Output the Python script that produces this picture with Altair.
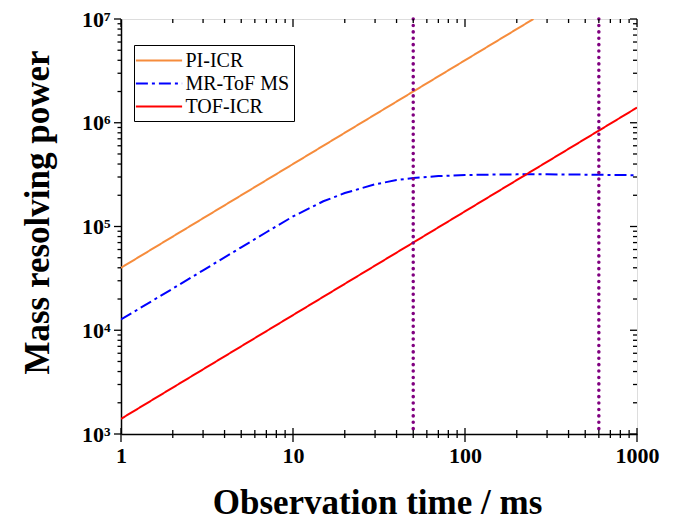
import altair as alt
import pandas as pd

# ---- data ----
series_names = ["PI-ICR", "MR-ToF MS", "TOF-ICR"]
pi_time = [1, 250]
pi_power = [4.0e4, 1.0e7]
mr_time = [1, 2, 3, 5, 7, 10, 15, 20, 30, 40, 50, 70, 100, 150, 200, 300, 500, 700, 1000]
mr_power = [1.27e4, 2.52e4, 3.78e4, 6.3e4, 8.8e4, 1.25e5, 1.75e5, 2.1e5, 2.55e5, 2.8e5,
            2.93e5, 3.06e5, 3.13e5, 3.17e5, 3.18e5, 3.18e5, 3.16e5, 3.14e5, 3.12e5]
tof_time = [1, 1000]
tof_power = [1.4e3, 1.4e6]
marker_times = [50, 600]

x_major = [1, 10, 100, 1000]
x_minor = [2, 3, 4, 5, 6, 7, 8, 9, 20, 30, 40, 50, 60, 70, 80, 90,
           200, 300, 400, 500, 600, 700, 800, 900]
y_major = [1e3, 1e4, 1e5, 1e6, 1e7]
y_minor = [m * 10 ** e for e in range(3, 7) for m in range(2, 10)]

colors = ["#F68C3C", "#0000FF", "#FF0000"]
dashes = [[1, 0], [12, 4, 3, 4], [1, 0]]

W, H = 516, 415

rows = []
for name, ts, rs in [(series_names[0], pi_time, pi_power),
                     (series_names[1], mr_time, mr_power),
                     (series_names[2], tof_time, tof_power)]:
    for t, r in zip(ts, rs):
        rows.append({"series": name, "t": t, "R": r})
df = pd.DataFrame(rows)
vdf = pd.DataFrame({"t": marker_times})

FONT = "Liberation Serif"
xscale = alt.Scale(type="log", domain=[1, 1000], nice=False)
yscale = alt.Scale(type="log", domain=[1e3, 1e7], nice=False)

ylab = ("datum.value == 1000 ? '10³' : datum.value == 10000 ? '10⁴' : "
        "datum.value == 100000 ? '10⁵' : datum.value == 1000000 ? '10⁶' : "
        "datum.value == 10000000 ? '10⁷' : ''")

x_axis = alt.Axis(values=x_major, format="d", title="Observation time / ms",
                  orient="bottom", grid=False, ticks=False,
                  labelFont=FONT, labelFontWeight="bold", labelFontSize=22, labelPadding=11,
                  titleFont=FONT, titleFontWeight="bold", titleFontSize=35,
                  titleX=256, titleY=79, titleAlign="center", titleBaseline="alphabetic",
                  labelColor="black", titleColor="black", domainColor="black",
                  domainWidth=1.5, labelFlush=False, labelOverlap=False)
y_axis = alt.Axis(values=y_major, labelExpr=ylab, title="Mass resolving power",
                  orient="left", grid=False, ticks=False,
                  labelFont=FONT, labelFontWeight="bold", labelFontSize=22, labelPadding=11,
                  titleFont=FONT, titleFontWeight="bold", titleFontSize=35,
                  titleX=-73, titleY=193, titleAngle=270, titleAlign="center", titleBaseline="alphabetic",
                  labelColor="black", titleColor="black", domainColor="black",
                  domainWidth=1.5, labelFlush=False, labelOverlap=False)

X = alt.X("t:Q", scale=xscale, axis=x_axis)
Y = alt.Y("R:Q", scale=yscale, axis=y_axis)

lines = alt.Chart(df).mark_line(strokeWidth=2, clip=True).encode(
    x=X,
    y=Y,
    color=alt.Color("series:N", sort=series_names,
                    scale=alt.Scale(domain=series_names, range=colors),
                    legend=alt.Legend(title=None, orient="none", legendX=13, legendY=26,
                                      symbolType="M-2.2,0L2.2,0", symbolSize=441, symbolStrokeWidth=2,
                                      symbolOffset=9.5, labelOffset=15,
                                      labelFont=FONT, labelFontSize=20, labelColor="black",
                                      rowPadding=1, padding=4,
                                      strokeColor="black", fillColor="white")),
    strokeDash=alt.StrokeDash("series:N", sort=series_names,
                              scale=alt.Scale(domain=series_names, range=dashes),
                              legend=alt.Legend(title=None, orient="none", legendX=13, legendY=26)),
    order=alt.Order("t:Q"),
)

rules = alt.Chart(vdf).mark_rule(color="#800080", strokeWidth=3.5, strokeDash=[0.1, 6.3],
                                 strokeCap="round").encode(x=X)

# axis tick marks (positions come from the tick value lists through the scales)
xmaj = pd.DataFrame({"t": x_major})
xmin = pd.DataFrame({"t": x_minor})
ymaj = pd.DataFrame({"R": y_major})
ymin = pd.DataFrame({"R": y_minor})


def xticks(d, a, b):
    return alt.Chart(d).mark_rule(color="black", strokeWidth=1.3).encode(
        x=X, y=alt.value(a), y2=alt.value(b))


def yticks(d, a, b):
    return alt.Chart(d).mark_rule(color="black", strokeWidth=1.3).encode(
        y=Y, x=alt.value(a), x2=alt.value(b))


tick_layers = [
    xticks(xmaj, H - 6, H + 8), xticks(xmin, H - 4, H + 4),      # bottom, crossing
    xticks(xmaj, 0, 8), xticks(xmin, 0, 4),                      # top, inward
    yticks(ymaj, -7, 0), yticks(ymin, -3.5, 0),                  # left, outward
    yticks(ymaj, W - 7, W), yticks(ymin, W - 4, W),              # right, inward
]

chart = alt.layer(lines, rules, *tick_layers).properties(
    width=W, height=H,
    autosize=alt.AutoSizeParams(type="none"),
    padding={"left": 121, "top": 19, "right": 37, "bottom": 86},
).configure_view(stroke="black", strokeWidth=1.5).configure(background="white")

chart.save("out.html", embed_options={"renderer": "svg", "actions": False})
